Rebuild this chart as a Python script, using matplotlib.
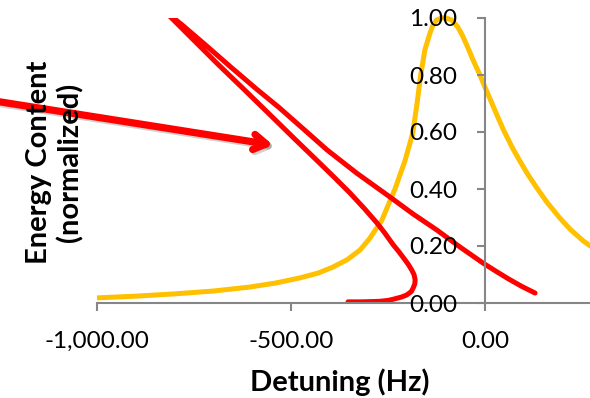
import matplotlib.pyplot as plt
import matplotlib.patheffects as pe
from matplotlib.ticker import FuncFormatter

# yellow curve: linear response (normalized energy vs detuning)
lin_x = [-1000, -900, -800, -700, -606, -540, -477, -430, -392, -355, -322, -298,
         -266, -232, -206, -186, -174, -166, -155, -142, -135, -125, -112, -100, -86,
         -70, -58, -47, -30, -13, 0, 13, 30, 47, 70, 90, 110, 133, 160, 193, 220, 253, 300]
lin_y = [0.018, 0.024, 0.032, 0.042, 0.056, 0.070, 0.088, 0.105, 0.126, 0.152, 0.186, 0.225,
         0.290, 0.400, 0.500, 0.597, 0.712, 0.797, 0.888, 0.946, 0.972, 0.993, 1.000, 1.000, 0.993,
         0.968, 0.938, 0.905, 0.850, 0.800, 0.757, 0.716, 0.662, 0.609, 0.546, 0.498, 0.452,
         0.405, 0.353, 0.298, 0.258, 0.218, 0.172]

# red curve: bent (nonlinear) response
nl_x = [-353, -320, -290, -271, -250, -237, -215, -202, -190, -185, -181, -180, -183, -189,
        -197, -206, -222, -237, -258, -278, -310, -348, -390, -433, -490, -550, -620, -690,
        -760, -830,
        -780, -720, -657, -590, -530, -470, -407, -330, -245, -185, -124, -65, -5, 30, 60,
        95, 129]
nl_y = [0.004, 0.004, 0.005, 0.006, 0.009, 0.013, 0.021, 0.028, 0.040, 0.053, 0.067, 0.081,
        0.100, 0.116, 0.134, 0.151, 0.180, 0.205, 0.245, 0.280, 0.330, 0.386, 0.443, 0.500,
        0.575, 0.655, 0.748, 0.840, 0.935, 1.030,
        0.975, 0.905, 0.830, 0.752, 0.685, 0.613, 0.537, 0.455, 0.372, 0.312, 0.256, 0.197,
        0.140, 0.110, 0.085, 0.058, 0.035]

x_ticks = [-1000, -500, 0]
y_ticks = [0.0, 0.2, 0.4, 0.6, 0.8, 1.0]

plt.rcParams['font.family'] = ['Lato', 'DejaVu Sans']

fig = plt.figure(figsize=(5.9, 3.98), dpi=100)
ax = fig.add_axes([97 / 590, 95 / 398, 582 / 590, 285 / 398])

ax.plot(lin_x, lin_y, color='#FFC000', lw=3.6, clip_on=False, solid_capstyle='butt',
        solid_joinstyle='round', zorder=2)
ax.plot(nl_x, nl_y, color='#FF0000', lw=3.6, solid_capstyle='round',
        solid_joinstyle='round', zorder=2.1)

ax.set_xlim(-1000, 500)
ax.set_ylim(0, 1)
ax.set_xticks(x_ticks)
ax.set_yticks(y_ticks)
ax.xaxis.set_major_formatter(FuncFormatter(lambda v, p: f'{v:,.2f}'))
ax.yaxis.set_major_formatter(FuncFormatter(lambda v, p: f'{v:.2f}'))

gray = '#868686'
for s in ['top', 'right']:
    ax.spines[s].set_visible(False)
ax.spines['left'].set_position(('data', 0))
ax.spines['left'].set_color(gray)
ax.spines['bottom'].set_color(gray)
ax.spines['left'].set_linewidth(1.5)
ax.spines['bottom'].set_linewidth(1.5)
ax.tick_params(axis='both', colors=gray, length=6, width=1.5, labelcolor='black',
               labelsize=17.5)
ax.tick_params(axis='x', pad=14)
ax.tick_params(axis='y', pad=14)
ax.set_axisbelow(False)
ax.patch.set_alpha(0)

fig.text(340 / 590, 1 - 382 / 398, 'Detuning (Hz)', ha='center', va='center',
         fontsize=21, fontweight='bold')
fig.text(55 / 590, 1 - 162 / 398, 'Energy Content\n(normalized)', ha='center', va='center',
         rotation=90, fontsize=21, fontweight='bold', linespacing=1.2,
         multialignment='center')

arr = ax.annotate('', xy=(273 / 590, 1 - 145 / 398), xycoords='figure fraction',
                  xytext=(-0.02, 1 - 100 / 398), textcoords='figure fraction',
                  arrowprops=dict(arrowstyle='->,head_length=0.9,head_width=0.55',
                                  color='#FF0000', lw=5.2, capstyle='round', joinstyle='round',
                                  shrinkA=0, shrinkB=0),
                  annotation_clip=False, zorder=5)
arr.arrow_patch.set_path_effects([pe.SimpleLineShadow(offset=(1.5, -1.5), alpha=0.18),
                                  pe.Normal()])

fig.savefig('out.png', dpi=100)
